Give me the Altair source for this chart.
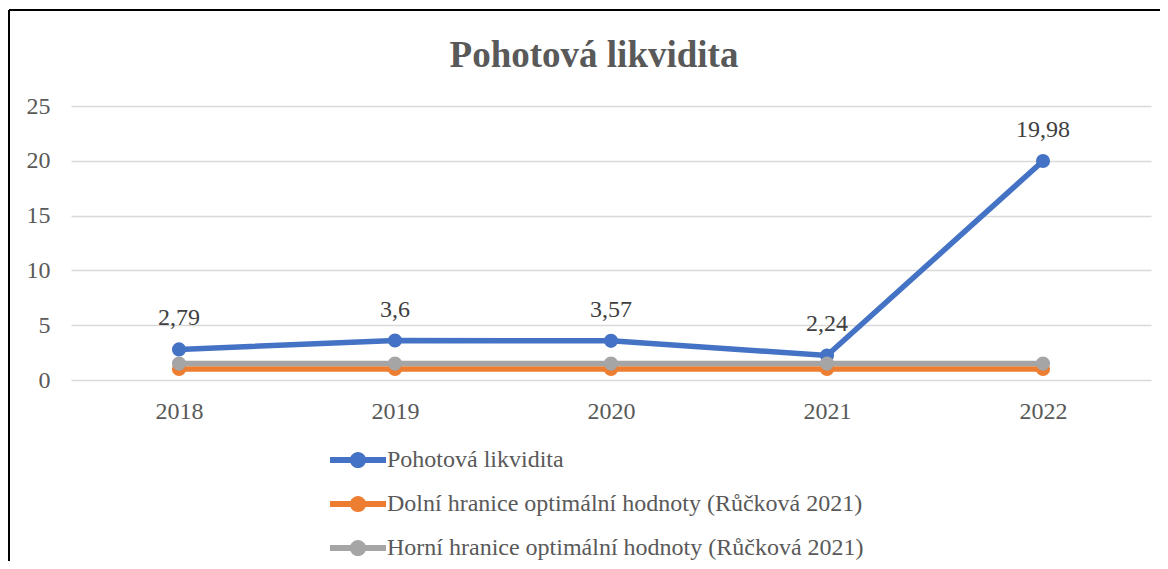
import altair as alt
import pandas as pd

years = ["2018", "2019", "2020", "2021", "2022"]
series_names = [
    "Pohotová likvidita",
    "Dolní hranice optimální hodnoty (Růčková 2021)",
    "Horní hranice optimální hodnoty (Růčková 2021)",
]
pohotova = [2.79, 3.6, 3.57, 2.24, 19.98]
dolni = [1.0, 1.0, 1.0, 1.0, 1.0]
horni = [1.5, 1.5, 1.5, 1.5, 1.5]
colors = ["#4472C4", "#ED7D31", "#A5A5A5"]

rows = []
for k, (name, vals) in enumerate(zip(series_names, [pohotova, dolni, horni])):
    for y, v in zip(years, vals):
        rows.append({"rok": y, "serie": name, "hodnota": v, "poradi": k})
df = pd.DataFrame(rows)
lbl = pd.DataFrame({"rok": years, "hodnota": pohotova})

FONT = "Liberation Serif"
GREY = "#595959"

xenc = alt.X("rok:N", sort=years, title=None,
             scale=alt.Scale(paddingInner=0, paddingOuter=0),
             axis=alt.Axis(labelAngle=0, domain=False, ticks=False, grid=False, labelPadding=19,
                           labelFontSize=24, labelColor=GREY, labelFont=FONT))
yenc = alt.Y("hodnota:Q", title=None,
             scale=alt.Scale(domain=[0, 25], nice=False),
             axis=alt.Axis(values=[0, 5, 10, 15, 20, 25], domain=False, ticks=False, grid=True,
                           labelPadding=21, labelFontSize=24, labelColor=GREY, labelFont=FONT,
                           gridColor="#D9D9D9", gridWidth=1.5))
cenc = alt.Color("serie:N", sort=series_names,
                 scale=alt.Scale(domain=series_names, range=colors),
                 legend=alt.Legend(title=None, orient="none", legendX=259, legendY=326,
                                   direction="vertical", symbolType=
                                   "M-1,-0.107 L1,-0.107 L1,0.107 L-1,0.107 Z "
                                   "M-0.29,0 A0.29,0.29 0 1,1 0.29,0 A0.29,0.29 0 1,1 -0.29,0 Z",
                                   symbolSize=3136, symbolStrokeWidth=0, symbolOpacity=1,
                                   labelFontSize=24, labelColor=GREY, labelFont=FONT,
                                   labelOffset=1, rowPadding=4, labelLimit=900))

lines = alt.Chart(df).mark_line(strokeWidth=5.5).encode(x=xenc, y=yenc, color=cenc,
                                                        order=alt.Order("poradi:Q"))
points = alt.Chart(df).mark_point(filled=True, size=200, opacity=1).encode(
    x=xenc, y=yenc, color=cenc, order=alt.Order("poradi:Q"))

labels = alt.Chart(lbl).transform_calculate(
    txt="replace(toString(datum.hodnota), '.', ',')"
).mark_text(dy=-31, fontSize=24, font=FONT, color="#404040").encode(
    x=alt.X("rok:N", sort=years), y="hodnota:Q", text="txt:N")

frame_top = alt.Chart(alt.Data(values=[{}])).mark_rule(color="black", strokeWidth=2).encode(
    x=alt.value(-62), x2=alt.value(1120), y=alt.value(-96))
frame_left = alt.Chart(alt.Data(values=[{}])).mark_rule(color="black", strokeWidth=2).encode(
    x=alt.value(-62), y=alt.value(-96), y2=alt.value(480))

chart = alt.layer(lines, points, labels, frame_top, frame_left).properties(
    width=1080, height=274,
    title=alt.TitleParams("Pohotová likvidita", font=FONT, fontSize=37, fontWeight="bold",
                          color=GREY, baseline="alphabetic", offset=-95, dx=-17, frame="group"),
    autosize=alt.AutoSizeParams(type="none"),
    padding={"left": 63, "top": 98, "right": 9, "bottom": 181},
).configure_view(stroke=None)

chart.save("out.html", embed_options={"renderer": "svg", "actions": False})
